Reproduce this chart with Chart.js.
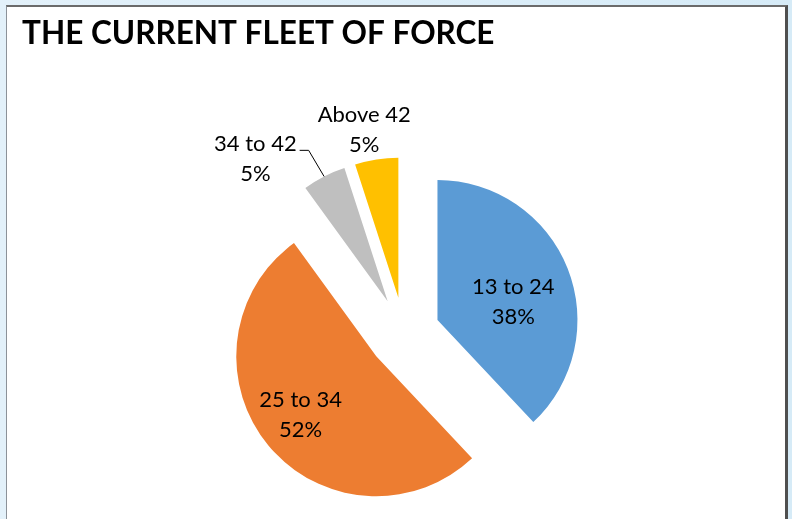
<!DOCTYPE html>
<html>
<head>
<meta charset="utf-8">
<title>The Current Fleet of Force</title>
<script src="https://cdn.jsdelivr.net/npm/chart.js@4.4.1/dist/chart.umd.min.js"></script>
<style>
    html, body {
        margin: 0;
        padding: 0;
        width: 792px;
        height: 519px;
        overflow: hidden;
        background: linear-gradient(to right, #e3f1fa, #d6ebf7);
    }
    .panel {
        position: absolute;
        left: 6px;
        top: 5px;
        width: 778px;
        height: 620px;
        background: #fff;
        border-left: 1px solid #8c9299;
        border-top: 2px solid #6b6b6b;
        border-right: 3px solid #4f4f4f;
    }
    #fleet-chart {
        position: absolute;
        left: 0;
        top: 0;
    }
</style>
</head>
<body>
<div class="panel"></div>
<canvas id="fleet-chart" width="792" height="608"></canvas>

<script>
// Age bands of the fleet and their share (percent)
const ageBands = ['13 to 24', '25 to 34', '34 to 42', 'Above 42'];
const fleetShare = [38, 52, 5, 5];

const sliceColors = ['#5b9bd5', '#ed7d31', '#bfbfbf', '#ffc000'];

// How far every slice is pulled out of the pie (px)
const EXPLODE = 36;

// Label placement per slice: angle shift from the slice middle (deg) and distance from its tip (px)
const labelPlace = [
    { shift: 8, dist: 78 },
    { shift: 1.6, dist: 96 },
    { shift: -16, dist: 194, leader: true },
    { shift: -2.5, dist: 171 }
];

// Pull each slice outwards along its middle angle
const explodePlugin = {
    id: 'explode',
    afterDatasetUpdate(chart, args) {
        const meta = chart.getDatasetMeta(args.index);
        meta.data.forEach(arc => {
            const mid = (arc.startAngle + arc.endAngle) / 2;
            arc.x += Math.cos(mid) * EXPLODE;
            arc.y += Math.sin(mid) * EXPLODE;
        });
    }
};

// Category name and percentage on every slice
const sliceLabelPlugin = {
    id: 'sliceLabels',
    afterDatasetsDraw(chart) {
        const ctx = chart.ctx;
        const arcs = chart.getDatasetMeta(0).data;
        const total = fleetShare.reduce((a, b) => a + b, 0);
        ctx.save();
        ctx.font = '22px Lato';
        ctx.fillStyle = '#000';
        ctx.textAlign = 'center';
        ctx.textBaseline = 'middle';
        arcs.forEach((arc, i) => {
            const p = labelPlace[i];
            const mid = (arc.startAngle + arc.endAngle) / 2;
            const a = mid + p.shift * Math.PI / 180;
            const x = arc.x + Math.cos(a) * p.dist;
            const y = arc.y + Math.sin(a) * p.dist;
            const pct = Math.round(fleetShare[i] / total * 100) + '%';
            ctx.fillText(ageBands[i], x, y - 15);
            ctx.fillText(pct, x, y + 15);

            if (p.leader) {
                const right = x + ctx.measureText(ageBands[i]).width / 2;
                const ly = y - 9;
                ctx.beginPath();
                ctx.strokeStyle = '#000';
                ctx.lineWidth = 1;
                ctx.moveTo(right + 3, ly);
                ctx.lineTo(right + 12, ly);
                ctx.lineTo(arc.x + Math.cos(mid) * arc.outerRadius, arc.y + Math.sin(mid) * arc.outerRadius);
                ctx.stroke();
            }
        });
        ctx.restore();
    }
};

new Chart(document.getElementById('fleet-chart'), {
    type: 'pie',
    data: {
        labels: ageBands,
        datasets: [{
            data: fleetShare,
            backgroundColor: sliceColors,
            borderWidth: 0,
            radius: 140
        }]
    },
    options: {
        responsive: false,
        devicePixelRatio: 1,
        animation: false,
        events: [],
        layout: {
            padding: { left: 22, right: 6, top: 0, bottom: 4 }
        },
        plugins: {
            legend: { display: false },
            tooltip: { enabled: false },
            title: {
                display: true,
                text: 'THE CURRENT FLEET OF FORCE',
                align: 'start',
                color: '#000',
                font: { family: 'Lato', size: 31.5, weight: 'bold' },
                padding: { top: 14.8, bottom: 10 }
            }
        }
    },
    plugins: [explodePlugin, sliceLabelPlugin]
});
</script>
</body>
</html>
